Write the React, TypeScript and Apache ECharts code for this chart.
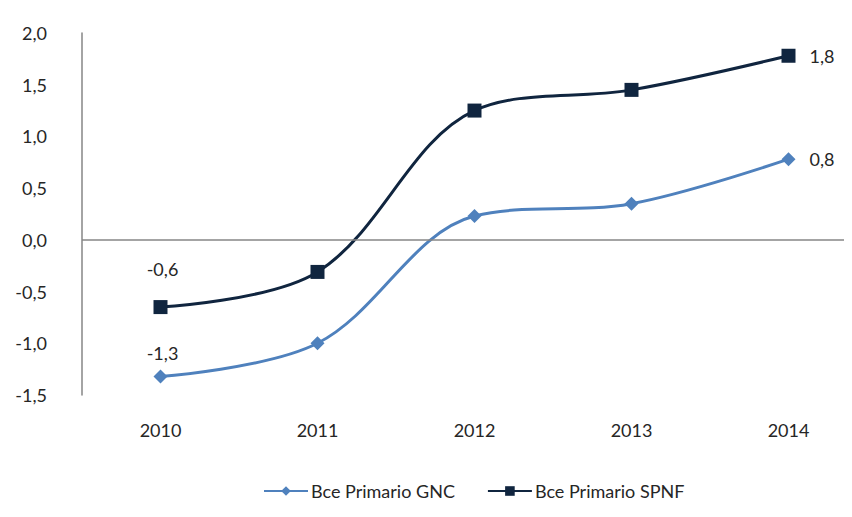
import React, { useEffect, useRef } from "react";
import * as echarts from "echarts";

const categories = ["2010", "2011", "2012", "2013", "2014"];
const gncValues = [-1.32, -1.0, 0.23, 0.35, 0.78];
const spnfValues = [-0.65, -0.31, 1.25, 1.45, 1.78];
const gncLabels = ["-1,3", "", "", "", "0,8"];
const spnfLabels = ["-0,6", "", "", "", "1,8"];

const FONT = "Lato";
const TEXT = "#262626";
const FS = 18;

function buildData(values: number[], labels: string[], isTop: boolean) {
  return values.map((v, i) => {
    if (!labels[i]) return { value: v };
    const last = i === values.length - 1;
    return {
      value: v,
      label: {
        show: true,
        formatter: labels[i],
        position: last ? "right" : "top",
        distance: last ? 14 : isTop ? 22 : 7,
        offset: last ? [0, 0] : [2, 0],
        color: TEXT,
        fontFamily: FONT,
        fontSize: FS,
      },
    };
  });
}

export default function App() {
  const ref = useRef<HTMLDivElement>(null);
  useEffect(() => {
    if (!ref.current) return;
    const chart = echarts.init(ref.current, null, { renderer: "svg" });
    chart.setOption({
      animation: false,
      backgroundColor: "#ffffff",
      grid: { left: 82, top: 33, width: 785, bottom: 122 },
      legend: {
        bottom: 12,
        left: 258,
        itemWidth: 44,
        itemHeight: 12,
        itemGap: 32,
        textStyle: { fontFamily: FONT, fontSize: FS, color: TEXT, padding: [0, 0, 0, -2] },
        data: ["Bce Primario GNC", "Bce Primario SPNF"],
      },
      xAxis: {
        type: "category",
        data: categories,
        boundaryGap: true,
        axisLine: { show: false },
        axisTick: { show: false },
        axisLabel: { fontFamily: FONT, fontSize: FS, color: TEXT, margin: 26 },
      },
      yAxis: {
        type: "value",
        min: -1.5,
        max: 2,
        interval: 0.5,
        axisLine: { show: true, lineStyle: { color: "#868686", width: 1.5 } },
        axisTick: { show: false },
        splitLine: { show: false },
        axisLabel: {
          fontFamily: FONT,
          fontSize: FS,
          color: TEXT,
          margin: 35,
          formatter: (v: number) => v.toFixed(1).replace(".", ","),
        },
      },
      series: [
        {
          name: "Bce Primario GNC",
          type: "line",
          smooth: 0.35,
          data: buildData(gncValues, gncLabels, false),
          symbol: "diamond",
          symbolSize: 14,
          itemStyle: { color: "#4F81BD" },
          lineStyle: { color: "#4F81BD", width: 3 },
          markLine: {
            silent: true,
            symbol: "none",
            label: { show: false },
            lineStyle: { color: "#868686", width: 1.5, type: "solid" },
            data: [{ yAxis: 0 }],
          },
          z: 3,
        },
        {
          name: "Bce Primario SPNF",
          type: "line",
          smooth: 0.35,
          data: buildData(spnfValues, spnfLabels, true),
          symbol: "rect",
          symbolSize: 14,
          itemStyle: { color: "#10253F" },
          lineStyle: { color: "#10253F", width: 3 },
          z: 4,
        },
      ],
    });
    return () => chart.dispose();
  }, []);
  return (
    <div style={{ width: 852, height: 517, margin: -8, overflow: "hidden" }}>
      <div ref={ref} style={{ width: 870, height: 517 }} />
    </div>
  );
}
